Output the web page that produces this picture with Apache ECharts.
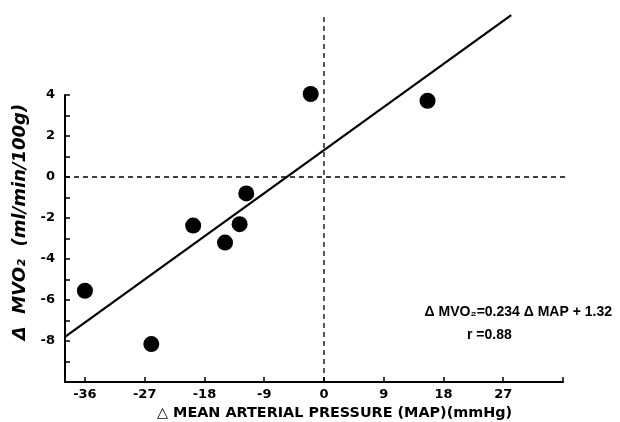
<!DOCTYPE html>
<html>
<head>
<meta charset="utf-8">
<script src="https://cdn.jsdelivr.net/npm/echarts@6/dist/echarts.min.js"></script>
<style>html,body{margin:0;padding:0;background:#fff;}#c{width:620px;height:422px;}</style>
</head>
<body>
<div id="c"></div>
<script>
// Data
const mapChange = [-36, -26, -19.7, -14.9, -12.7, -11.7, -2, 15.6];
const mvo2Change = [-5.55, -8.15, -2.37, -3.2, -2.3, -0.8, 4.05, 3.72];
// regression line end points (ΔMVO2 = 0.234 ΔMAP + 1.32)
const fitX = [-39, 28.2];
const fitY = [-7.8, 7.9];
// reference lines
const zeroVertY = [-10, 7.9];
const zeroHorizX = [-39, 36.3];
// tick labels
const xTickLabels = [-36, -27, -18, -9, 0, 9, 18, 27];
const xTicks = [-36, -27, -18, -9, 0, 9, 18, 27, 36];
const yTickLabels = [-8, -6, -4, -2, 0, 2, 4];
const yTicks = [-10, -9, -8, -7, -6, -5, -4, -3, -2, -1, 0, 1, 2, 3, 4];

const font = 'DejaVu Sans';
const chart = echarts.init(document.getElementById('c'));
chart.setOption({
  animation: false,
  backgroundColor: '#fff',
  grid: {left: 65, right: 57, top: 95, bottom: 40},
  xAxis: {
    type: 'value', min: -39, max: 36,
    axisLine: {show: true, onZero: false, lineStyle: {color: '#000', width: 2}},
    axisTick: {show: true, inside: true, length: 5, customValues: xTicks, lineStyle: {color: '#000', width: 1.5}},
    axisLabel: {customValues: xTickLabels, color: '#000', fontFamily: font, fontWeight: 'bold', fontSize: 13, margin: 6},
    splitLine: {show: false}
  },
  yAxis: {
    type: 'value', min: -10, max: 4,
    axisLine: {show: true, onZero: false, lineStyle: {color: '#000', width: 2}},
    axisTick: {show: true, inside: true, length: 5, customValues: yTicks, lineStyle: {color: '#000', width: 1.5}},
    axisLabel: {customValues: yTickLabels, color: '#000', fontFamily: font, fontWeight: 'bold', fontSize: 13, margin: 10},
    splitLine: {show: false}
  },
  series: [
    {
      type: 'line', clip: false, symbol: 'none', silent: true,
      data: zeroVertY.map(y => [0, y]),
      lineStyle: {color: '#000', width: 1.3, type: [5, 4], opacity: 1}
    },
    {
      type: 'line', clip: false, symbol: 'none', silent: true,
      data: zeroHorizX.map(x => [x, 0]),
      lineStyle: {color: '#000', width: 1.3, type: [5, 4], opacity: 1}
    },
    {
      type: 'line', clip: false, symbol: 'none', silent: true,
      data: fitX.map((x, i) => [x, fitY[i]]),
      lineStyle: {color: '#000', width: 2.2}
    },
    {
      type: 'scatter', symbol: 'circle', symbolSize: 16, clip: false,
      data: mapChange.map((x, i) => [x, mvo2Change[i]]),
      itemStyle: {color: '#000', opacity: 1}
    }
  ],
  graphic: [
    {
      type: 'text', x: 157, y: 406,
      style: {text: '△ MEAN ARTERIAL PRESSURE (MAP)(mmHg)', fill: '#000', font: 'bold 14.4px "DejaVu Sans"', verticalAlign: 'top'}
    },
    {
      type: 'text', x: 20, y: 222, rotation: Math.PI / 2,
      style: {text: 'Δ  MVO₂  (ml/min/100g)', fill: '#000', font: 'italic bold 18px "DejaVu Sans"', align: 'center', verticalAlign: 'middle'}
    },
    {
      type: 'text', x: 612, y: 312,
      style: {text: 'Δ MVO₂=0.234 Δ MAP + 1.32', fill: '#000', font: 'bold 14px "Liberation Sans"', align: 'right', verticalAlign: 'middle'}
    },
    {
      type: 'text', x: 467, y: 335,
      style: {text: 'r =0.88', fill: '#000', font: 'bold 14px "Liberation Sans"', align: 'left', verticalAlign: 'middle'}
    }
  ]
});
</script>
</body>
</html>
